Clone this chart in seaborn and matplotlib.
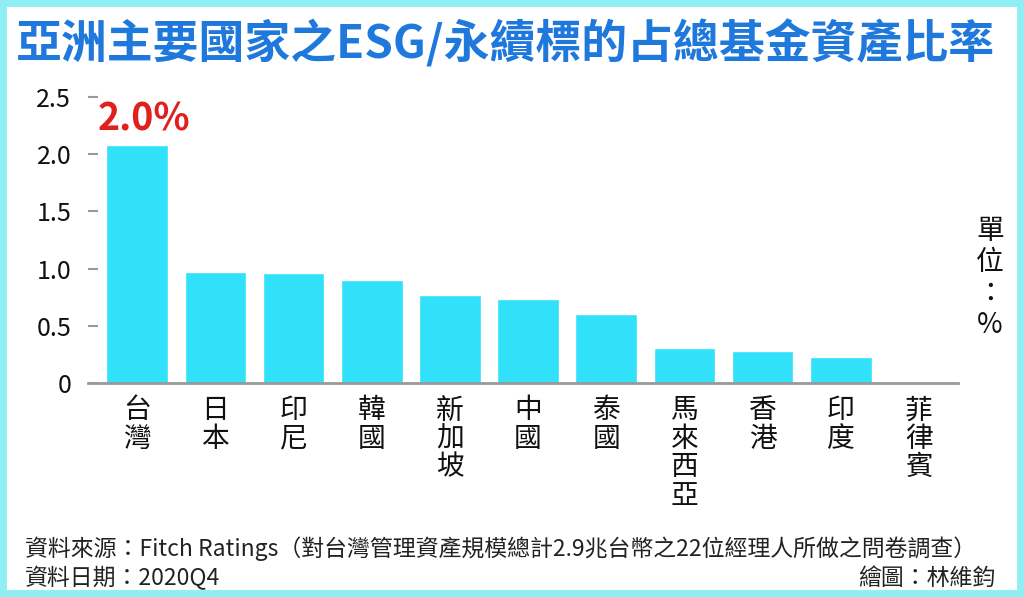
import matplotlib
matplotlib.use('Agg')
import matplotlib.pyplot as plt
import seaborn as sns
import pandas as pd
from matplotlib.patches import Rectangle

# dados
paises = ['台灣', '日本', '印尼', '韓國', '新加坡', '中國', '泰國', '馬來西亞', '香港', '印度', '菲律賓']
valores = [2.08, 0.97, 0.96, 0.90, 0.77, 0.73, 0.60, 0.31, 0.28, 0.23, 0.0]
yticks = [0, 0.5, 1.0, 1.5, 2.0, 2.5]
ytick_labels = ['0', '0.5', '1.0', '1.5', '2.0', '2.5']
destaque = '2.0%'

titulo = '亞洲主要國家之ESG/永續標的占總基金資產比率'
fonte = '資料來源：Fitch Ratings（對台灣管理資產規模總計2.9兆台幣之22位經理人所做之問卷調查）'
data_ref = '資料日期：2020Q4'
autor = '繪圖：林維鈞'
unidade = '單位：%'

df = pd.DataFrame({'pais': paises, 'valor': valores})

sns.set_style('white')
plt.rcParams['font.family'] = ['Noto Sans CJK TC', 'DejaVu Sans']

fig = plt.figure(figsize=(10.24, 5.97), dpi=100)
ax = fig.add_axes([88 / 1024, 214 / 597, 870 / 1024, 286 / 597])

sns.barplot(data=df, x='pais', y='valor', color='#30e1f9', width=0.79,
            saturation=1, ax=ax)

ax.set_xlim(-0.63, 10.5)
ax.set_ylim(0, 2.5)
ax.set_xlabel('')
ax.set_ylabel('')

# rótulos verticais (um caractere por linha)
ax.set_xticks(range(len(paises)))
ax.set_xticklabels(['\n'.join(p) for p in paises], fontsize=20, linespacing=0.93,
                   color='#111111')
ax.tick_params(axis='x', which='major', length=0, pad=9)
ax.set_xticks([i - 0.5 for i in range(len(paises) + 1)], minor=True)
ax.tick_params(axis='x', which='minor', length=6, width=1.5, color='#999999',
               direction='out')

ax.set_yticks(yticks)
ax.set_yticklabels(ytick_labels, fontsize=18, color='#111111')
ax.tick_params(axis='y', length=7, width=1.5, color='#999999', direction='in',
               pad=12, left=True)

for s in ['top', 'right', 'left']:
    ax.spines[s].set_visible(False)
ax.spines['bottom'].set_color('#999999')
ax.spines['bottom'].set_linewidth(2)

# valor em destaque do Taiwan
ax.text(0.08, valores[0] + 0.06, destaque, ha='center', va='bottom', fontsize=27,
        fontweight='bold', color='#e0201e')

fig.text(505 / 1024, 1 - 44 / 597, titulo, ha='center', va='center', fontsize=33,
         fontweight='bold', color='#1f78dc')

fig.text(990 / 1024, 1 - 278 / 597, '\n'.join(unidade), ha='center', va='center',
         fontsize=20, linespacing=1.05, color='#111111')

fig.text(25 / 1024, 1 - 549 / 597, fonte, ha='left', va='center', fontsize=16.5,
         color='#222222')
fig.text(25 / 1024, 1 - 578 / 597, data_ref, ha='left', va='center', fontsize=16.5,
         color='#222222')
fig.text(995 / 1024, 1 - 578 / 597, autor, ha='right', va='center', fontsize=16.5,
         color='#222222')

# moldura ciano
fig.patches.append(Rectangle((0, 0), 1, 1, transform=fig.transFigure, fill=False,
                             edgecolor='#8eeef4', linewidth=10, zorder=10))

plt.savefig('out.png', dpi=100)
